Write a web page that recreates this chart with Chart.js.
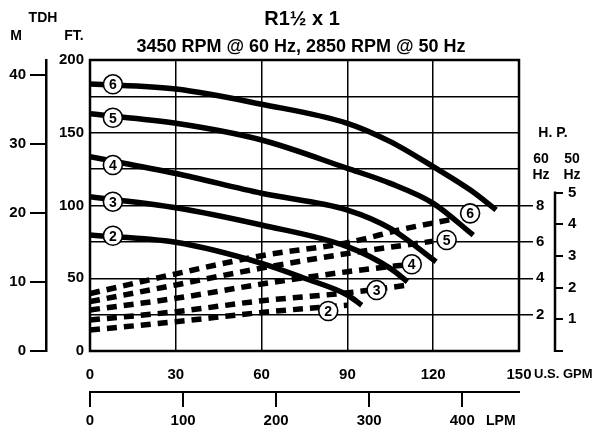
<!DOCTYPE html>
<html>
<head>
<meta charset="utf-8">
<script src="https://cdn.jsdelivr.net/npm/chart.js@4.4.1/dist/chart.umd.min.js"></script>
<style>
html,body{margin:0;padding:0;background:#fff;}
#wrap{width:596px;height:433px;}
</style>
</head>
<body>
<div id="wrap"><canvas id="c" width="596" height="433"></canvas></div>
<script>
// ---- tick labels ----
const gpmTicks = [0, 30, 60, 90, 120, 150];
const lpmTicks = [0, 100, 200, 300, 400];
const ftTicks = [0, 25, 50, 75, 100, 125, 150, 175, 200];
const ftLabeled = [0, 50, 100, 150, 200];
const mTicks = [0, 10, 20, 30, 40];
const hp60Ticks = [2, 4, 6, 8];
const hp50Ticks = [0, 1, 2, 3, 4, 5];

// ---- curve names ----
const curveNames = ['2', '3', '4', '5', '6'];

// ---- head curves (GPM, FT) ----
const head2Q = [0, 30, 60, 75, 90, 95];
const head2H = [79.7, 74.7, 60.3, 50, 38.5, 31.5];
const head3Q = [0, 30, 60, 90, 105, 111];
const head3H = [106, 98.5, 86.6, 71.7, 56.8, 47.6];
const head4Q = [0, 30, 60, 90, 105, 121];
const head4H = [133.5, 122, 108.4, 96.9, 84.3, 61.4];
const head5Q = [0, 30, 60, 90, 105, 120, 134];
const head5H = [163, 156.5, 145, 125.5, 115.2, 101.5, 79.7];
const head6Q = [0, 30, 60, 90, 105, 120, 133, 142];
const head6H = [183.5, 180, 169.6, 156.5, 143.9, 126.7, 110.6, 97];

// ---- horsepower curves (GPM, plotted on FT scale) ----
const hp2Q = [0, 30, 60, 90];
const hp2H = [14.4, 20.1, 26.5, 31.5];
const hp3Q = [0, 30, 60, 90, 112];
const hp3H = [21.3, 27, 34.5, 40, 45.5];
const hp4Q = [0, 30, 60, 90, 116];
const hp4H = [28.2, 36.2, 46, 54.5, 60.5];
const hp5Q = [0, 30, 60, 90, 120];
const hp5H = [33.9, 45.4, 57, 67, 75.5];
const hp6Q = [0, 30, 60, 90, 110, 128];
const hp6H = [39.5, 53, 65.5, 74.5, 84, 91];

// ---- label circle positions ----
const headLabelQ = [8, 8, 8, 8, 8];
const headLabelH = [79.2, 102.6, 127.8, 160.3, 183.3];
const hpLabelQ = [83.3, 100.2, 112.5, 124.7, 132.9];
const hpLabelH = [27.5, 41.9, 59.6, 76.3, 94.6];

const FONT = "'Liberation Sans', Arial, Helvetica, sans-serif";
Chart.defaults.font.family = FONT;
Chart.defaults.font.weight = 'bold';
Chart.defaults.color = '#000';

const pts = (qs, hs) => qs.map((q, i) => ({x: q, y: hs[i]}));
const headQ = [head2Q, head3Q, head4Q, head5Q, head6Q];
const headH = [head2H, head3H, head4H, head5H, head6H];
const hpQ = [hp2Q, hp3Q, hp4Q, hp5Q, hp6Q];
const hpH = [hp2H, hp3H, hp4H, hp5H, hp6H];

const datasets = [];
datasets.push({
  type: 'scatter', label: 'headLabels', data: pts(headLabelQ, headLabelH),
  pointRadius: 9.5, pointBackgroundColor: '#fff', pointBorderColor: '#000', pointBorderWidth: 1.6,
  order: 0
});
datasets.push({
  type: 'scatter', label: 'hpLabels', data: pts(hpLabelQ, hpLabelH),
  pointRadius: 9.5, pointBackgroundColor: '#fff', pointBorderColor: '#000', pointBorderWidth: 1.6,
  order: 0
});
for (let i = 0; i < 5; i++) {
  datasets.push({
    type: 'line', label: 'head ' + curveNames[i], data: pts(headQ[i], headH[i]),
    borderColor: '#000', borderWidth: 5.5, pointRadius: 0, cubicInterpolationMode: 'monotone',
    borderCapStyle: 'butt', fill: false, order: 2
  });
  datasets.push({
    type: 'line', label: 'hp ' + curveNames[i], data: pts(hpQ[i], hpH[i]),
    borderColor: '#000', borderWidth: 5.5, borderDash: [10, 7], pointRadius: 0, cubicInterpolationMode: 'monotone',
    borderCapStyle: 'butt', fill: false, order: 3
  });
}

const setTicks = arr => scale => { scale.ticks = arr.map(v => ({value: v})); };
const tickFont = {size: 15, weight: 'bold', family: FONT};

const decor = {
  id: 'decor',
  afterDatasetsDraw(chart) {
    const ctx = chart.ctx;
    ctx.save();
    ctx.fillStyle = '#000';
    ctx.font = 'bold 14px ' + FONT;
    ctx.textAlign = 'center';
    ctx.textBaseline = 'middle';
    [0, 1].forEach(di => {
      chart.getDatasetMeta(di).data.forEach((el, i) => {
        ctx.fillText(curveNames[i], el.x, el.y + 1);
      });
    });
    ctx.restore();
  },
  afterDraw(chart) {
    const ctx = chart.ctx;
    const a = chart.chartArea;
    ctx.save();
    ctx.strokeStyle = '#000';
    ctx.lineWidth = 2.5;
    ctx.strokeRect(a.left, a.top, a.right - a.left, a.bottom - a.top);
    // 50 Hz bracket
    const s = chart.scales.hp50;
    ctx.lineWidth = 2.5;
    ctx.beginPath();
    ctx.moveTo(s.left, s.getPixelForValue(0) + 1);
    ctx.lineTo(s.left, s.getPixelForValue(5) - 1);
    ctx.stroke();
    // texts
    ctx.fillStyle = '#000';
    ctx.textBaseline = 'alphabetic';
    ctx.textAlign = 'center';
    ctx.font = 'bold 20px ' + FONT;
    ctx.fillText('R1½ x 1', 302, 25);
    ctx.font = 'bold 18px ' + FONT;
    ctx.fillText('3450 RPM @ 60 Hz, 2850 RPM @ 50 Hz', 301, 52);
    ctx.font = 'bold 14px ' + FONT;
    ctx.fillText('TDH', 43, 22);
    ctx.fillText('M', 16, 40);
    ctx.fillText('FT.', 74, 40);
    ctx.fillText('H. P.', 553, 137);
    ctx.fillText('60', 541, 163);
    ctx.fillText('Hz', 541, 179);
    ctx.fillText('50', 572, 163);
    ctx.fillText('Hz', 572, 179);
    ctx.textAlign = 'left';
    ctx.textBaseline = 'middle';
    ctx.font = 'bold 13px ' + FONT;
    ctx.fillText('U.S. GPM', 534, 374);
    ctx.font = 'bold 14px ' + FONT;
    ctx.fillText('LPM', 486, 421);
    ctx.restore();
  }
};

new Chart(document.getElementById('c'), {
  data: {datasets},
  options: {
    responsive: false,
    animation: false,
    devicePixelRatio: 1,
    layout: {padding: {top: 60, left: 0, right: 0, bottom: 0}},
    plugins: {legend: {display: false}, tooltip: {enabled: false}, title: {display: false}},
    scales: {
      x: {
        type: 'linear', position: 'bottom', weight: 0, min: 0, max: 150,
        afterBuildTicks: setTicks(gpmTicks),
        afterFit: s => { s.height = 41; },
        grid: {color: '#000', lineWidth: 1.5, drawTicks: false, drawOnChartArea: true},
        border: {display: false},
        ticks: {font: tickFont, color: '#000', padding: 15, maxRotation: 0, autoSkip: false}
      },
      lpm: {
        type: 'linear', position: 'bottom', weight: 1, min: 0, max: 461,
        afterBuildTicks: setTicks(lpmTicks),
        afterFit: s => { s.height = 41; },
        grid: {color: '#000', lineWidth: 2, drawTicks: true, tickLength: 15, drawOnChartArea: false},
        border: {display: true, color: '#000', width: 2},
        ticks: {font: tickFont, color: '#000', padding: 5, maxRotation: 0, autoSkip: false}
      },
      y: {
        type: 'linear', position: 'left', weight: 0, min: 0, max: 200,
        afterBuildTicks: setTicks(ftTicks),
        afterFit: s => { s.width = 44; },
        grid: {color: '#000', lineWidth: 1.5, drawTicks: false, drawOnChartArea: true},
        border: {display: false},
        ticks: {font: tickFont, color: '#000', padding: 6, autoSkip: false,
          callback: v => ftLabeled.includes(v) ? String(v) : ''}
      },
      m: {
        type: 'linear', position: 'left', weight: 1, min: 0, max: 42.1,
        afterBuildTicks: setTicks(mTicks),
        afterFit: s => { s.width = 46; },
        grid: {color: '#000', lineWidth: 2, drawTicks: true, tickLength: 16, drawOnChartArea: false},
        border: {display: true, color: '#000', width: 2.5},
        ticks: {font: tickFont, color: '#000', padding: 4, autoSkip: false}
      },
      hp60: {
        type: 'linear', position: 'right', weight: 0, min: 0, max: 16,
        afterBuildTicks: setTicks(hp60Ticks),
        afterFit: s => { s.width = 36; },
        grid: {color: '#000', lineWidth: 1.5, drawTicks: true, tickLength: 14, drawOnChartArea: false},
        border: {display: false},
        ticks: {font: tickFont, color: '#000', padding: 3, autoSkip: false}
      },
      hp50: {
        type: 'linear', position: 'right', weight: 1, min: 0, max: 9.18,
        afterBuildTicks: setTicks(hp50Ticks),
        afterFit: s => { s.width = 41; },
        grid: {color: '#000', lineWidth: 2, drawTicks: true, tickLength: 8, drawOnChartArea: false},
        border: {display: false},
        ticks: {font: tickFont, color: '#000', padding: 5, autoSkip: false,
          callback: v => v === 0 ? '' : String(v)}
      }
    }
  },
  plugins: [decor]
});
</script>
</body>
</html>
